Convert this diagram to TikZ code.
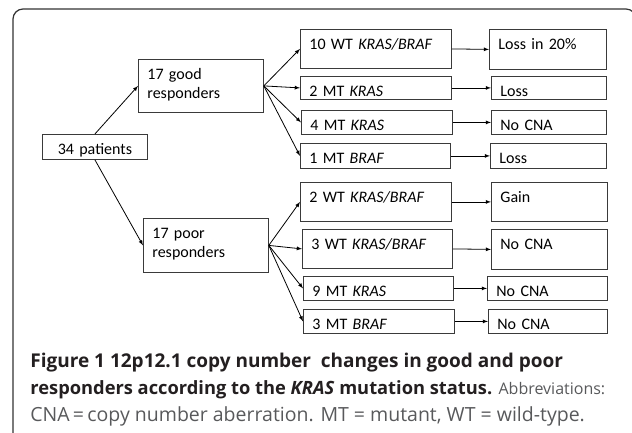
\documentclass[tikz,border=0pt]{standalone}
\usepackage{fontspec}
\setmainfont{Carlito}
\newfontfamily\capfont{Open Sans}
\usetikzlibrary{arrows}
\definecolor{boxgray}{HTML}{3A3A3A}
\definecolor{capdark}{HTML}{231F20}
\definecolor{capgray}{HTML}{58595B}

\begin{document}
\begin{tikzpicture}[x=1pt,y=-1pt,line width=0.8pt,-latex]
  \useasboundingbox (0,0) rectangle (632,432);

  \tikzstyle{box}=[draw=boxgray,shape=rectangle,anchor=north west,inner xsep=9pt,inner ysep=0pt,align=left,font=\fontsize{16}{19.5}\selectfont,text height=20pt]
  \tikzstyle{captext}=[anchor=base west,inner sep=0pt,font=\capfont\fontsize{19}{27}\selectfont,text=capdark]

  % outer frame
  \draw[-,draw=black!80,line width=1.2pt,rounded corners=10pt] (13,9) rectangle (636,446);

  \node[box,text width=87pt,align=center,text depth=5pt] (pat)  at (42,134)  {34 patients};
  \node[box,text width=107pt,text depth=33pt]           (good) at (138,59)  {17 good\\responders};
  \node[box,text width=107pt,text depth=34pt]           (poor) at (143,218) {17 poor\\responders};

  \node[box,text width=133pt,text depth=19pt] (wt10) at (300,29)  {10 WT \textit{KRAS/BRAF}};
  \node[box,text width=133pt,text depth=3pt]  (mk2)  at (300,76)  {2 MT \textit{KRAS}};
  \node[box,text width=133pt,text depth=4pt]  (mk4)  at (301,110) {4 MT \textit{KRAS}};
  \node[box,text width=132pt,text depth=5pt]  (mb1)  at (300,143) {1 MT \textit{BRAF}};
  \node[box,text width=133pt,text depth=19pt] (wt2)  at (300,182) {2 WT \textit{KRAS/BRAF}};
  \node[box,text width=132pt,text depth=19pt] (wt3)  at (302,229) {3 WT \textit{KRAS/BRAF}};
  \node[box,text width=132pt,text depth=4pt]  (mk9)  at (303,276) {9 MT \textit{KRAS}};
  \node[box,text width=133pt,text depth=4pt]  (mb3)  at (303,309) {3 MT \textit{BRAF}};

  \node[box,text width=99pt,text depth=20pt]  (r1) at (489,29)  {Loss in 20\%};
  \node[box,text width=97pt,text depth=3pt]   (r2) at (491,76)  {Loss};
  \node[box,text width=97pt,text depth=4pt]   (r3) at (491,110) {No CNA};
  \node[box,text width=98pt,text depth=5pt]   (r4) at (490,143) {Loss};
  \node[box,text width=98pt,text depth=19pt]  (r5) at (491,182) {Gain};
  \node[box,text width=98pt,text depth=20pt]  (r6) at (491,229) {No CNA};
  \node[box,text width=102pt,text depth=4pt]  (r7) at (487,276) {No CNA};
  \node[box,text width=101pt,text depth=4pt]  (r8) at (488,309) {No CNA};

  \path (pat.north) edge (good.west)
        (pat.south) edge (poor.west);

  \path (good.east) edge (wt10.west)
        (good.east) edge (mk2.west)
        (good.east) edge (mk4.west)
        (good.east) edge (mb1.west)
        (poor.east) edge (wt2.west)
        (poor.east) edge (wt3.west)
        (poor.east) edge (mk9.west)
        (poor.east) edge (mb3.west);

  \path (wt10.east) edge (r1.west)
        (mk2.east)  edge (r2.west)
        (mk4.east)  edge (r3.west)
        (mb1.east)  edge (r4.west)
        (wt2.east)  edge (r5.west)
        (wt3.east)  edge (r6.west)
        (mk9.east)  edge (r7.west)
        (mb3.east)  edge (r8.west);

  % caption
  \node[captext] (cap1) at (30,367) {\bfseries Figure 1 12p12.1 copy number\ \ changes in good and poor};
  \node[captext] (cap2) at (30,394) {\bfseries\fontsize{18.3}{27}\selectfont responders according to the \textit{KRAS} mutation status. {\mdseries\fontsize{16}{27}\selectfont\color{capgray}Abbreviations:}};
  \node[captext,text=capgray] (cap3) at (30,421) {\fontsize{19.5}{27}\selectfont CNA\,=\,copy number aberration. MT = mutant, WT = wild-type.};

\end{tikzpicture}
\end{document}
